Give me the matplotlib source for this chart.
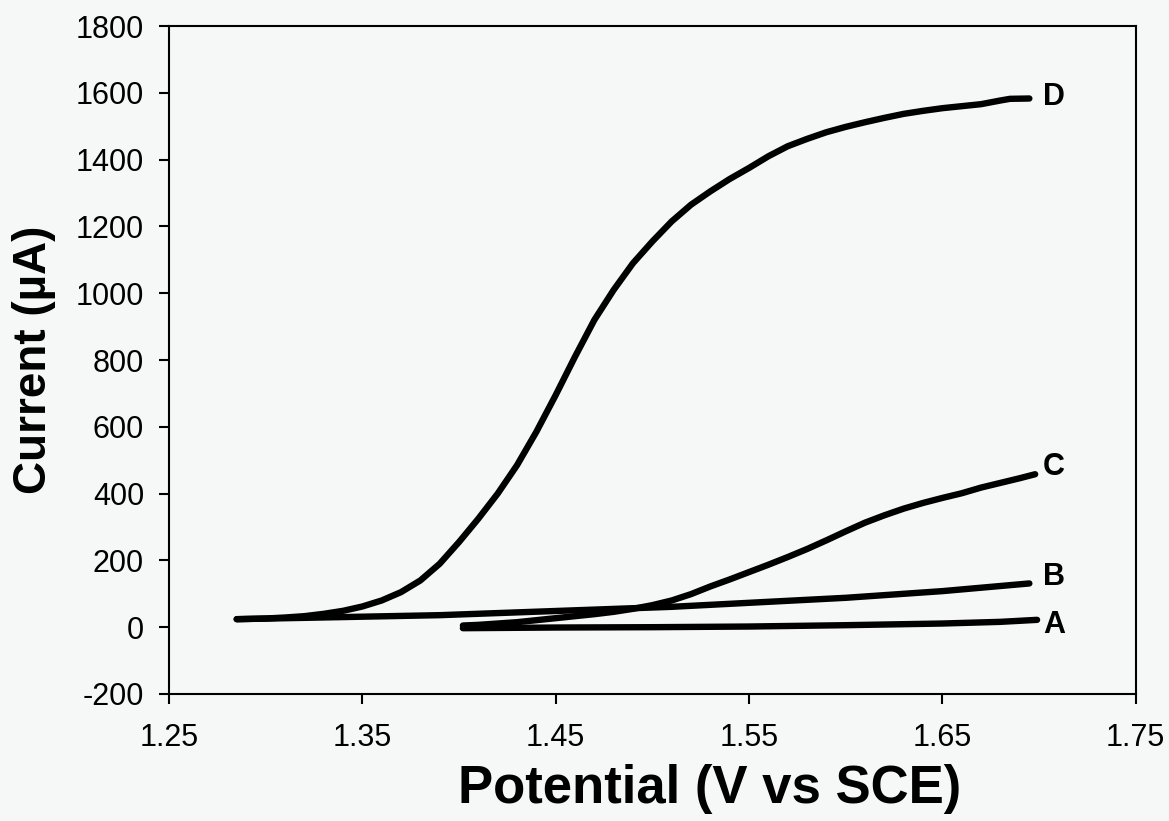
import numpy as np
import matplotlib.pyplot as plt

plt.rcParams['font.family'] = ['Liberation Sans', 'DejaVu Sans']
plt.rcParams['axes.unicode_minus'] = False

# anodic sweeps, potential in V vs SCE, current in uA
D_x = [1.285, 1.30, 1.31, 1.32, 1.33, 1.34, 1.35, 1.36, 1.37, 1.38, 1.39,
       1.40, 1.41, 1.42, 1.43, 1.44, 1.45, 1.46, 1.47, 1.48, 1.49,
       1.50, 1.51, 1.52, 1.53, 1.54, 1.55, 1.56, 1.57, 1.58, 1.59,
       1.60, 1.61, 1.62, 1.63, 1.64, 1.65, 1.66, 1.67, 1.68, 1.685, 1.695]
D_y = [24, 26, 29, 33, 40, 49, 62, 80, 105, 140, 190,
       255, 325, 400, 485, 585, 695, 810, 920, 1010, 1090,
       1155, 1215, 1265, 1305, 1342, 1375, 1410, 1440, 1462, 1482,
       1498, 1512, 1525, 1537, 1546, 1554, 1560, 1566, 1577, 1582, 1583]
C_x = [1.402, 1.41, 1.42, 1.43, 1.44, 1.45, 1.46, 1.47, 1.48, 1.49,
       1.50, 1.51, 1.52, 1.53, 1.54, 1.55, 1.56, 1.57, 1.58, 1.59,
       1.60, 1.61, 1.62, 1.63, 1.64, 1.65, 1.66, 1.67, 1.68, 1.69, 1.698]
C_y = [5, 7, 11, 15, 21, 27, 33, 39, 46, 55,
       66, 80, 99, 122, 143, 165, 187, 210, 234, 260,
       287, 313, 335, 355, 372, 387, 401, 418, 432, 446, 458]
B_x = [1.285, 1.39, 1.51, 1.60, 1.65, 1.695]
B_y = [24, 36, 61, 88, 108, 131]
A_x = [1.402, 1.45, 1.50, 1.55, 1.60, 1.65, 1.68, 1.699]
A_y = [-3, -1, 0, 2, 6, 11, 16, 22]

labels = ['A', 'B', 'C', 'D']
label_y = [7, 150, 480, 1587]

bg = '#f6f8f8'
fig = plt.figure(figsize=(11.69, 8.21), dpi=100, facecolor=bg)
ax = fig.add_axes([0.1446, 0.1547, 0.8269, 0.8136], facecolor=bg)

for xs, ys in [(A_x, A_y), (B_x, B_y), (C_x, C_y), (D_x, D_y)]:
    ax.plot(xs, ys, c='black', lw=4.6, solid_capstyle='round', solid_joinstyle='round')

for lab, ly in zip(labels, label_y):
    ax.text(1.702, ly, lab, fontsize=22, fontweight='bold', va='center', ha='left')

ax.set_xlim(1.25, 1.75)
ax.set_ylim(-200, 1800)
ax.set_xticks(np.arange(1.25, 1.76, 0.1))
ax.set_xticklabels(['1.25', '1.35', '1.45', '1.55', '1.65', '1.75'])
ax.set_yticks(np.arange(-200, 1801, 200))
ax.tick_params(direction='out', length=7, width=1.5, labelsize=22)
ax.tick_params(axis='x', pad=14)
ax.tick_params(axis='y', pad=11)
for s in ax.spines.values():
    s.set_linewidth(1.5)

ax.set_xlabel('Potential (V vs SCE)', fontsize=38, fontweight='bold')
ax.xaxis.set_label_coords(0.559, -0.105)
ax.set_ylabel('Current (\u00b5A)', fontsize=33, fontweight='bold', labelpad=14)

plt.savefig('out.png', dpi=100, facecolor=bg)
